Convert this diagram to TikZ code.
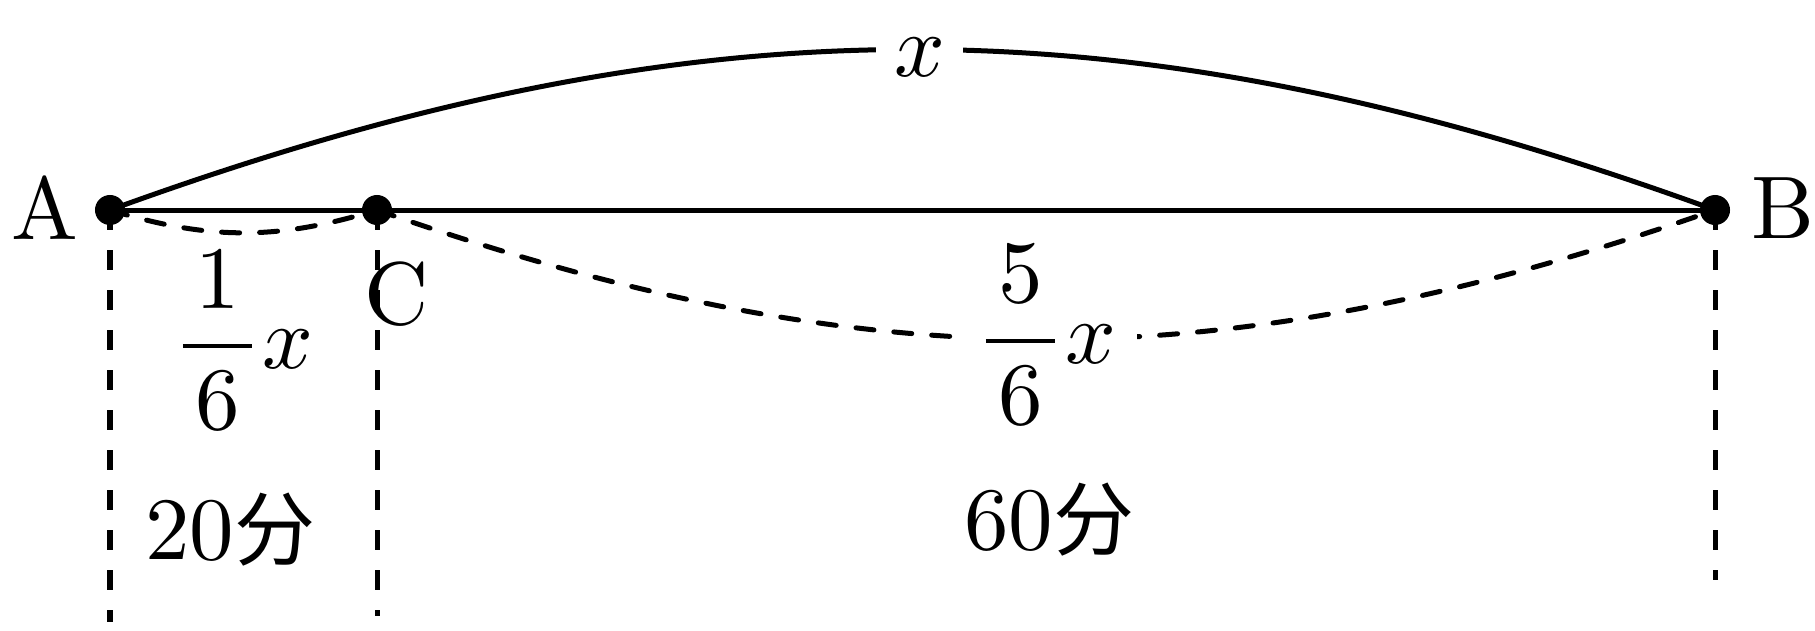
\documentclass[tikz,border=0pt]{standalone}
\usepackage{amsmath}
\usepackage{graphicx}
\usepackage{fontspec}
\newfontfamily\cjk{Noto Sans CJK SC}
\newcommand{\Lbl}[1]{\scalebox{2.53}{#1}}
\begin{document}
\begin{tikzpicture}[x=0.01cm, y=-0.01cm,
  lw/.style={line width=0.05cm},
  dotnode/.style={circle, fill=black, inner sep=0pt, minimum size=0.3cm},
  lbl/.style={font=\fontsize{10pt}{12pt}\selectfont, inner sep=0pt},
  vdash/.style={lw, dash pattern=on 0.2cm off 0.2cm},
  adash/.style={lw, line cap=round, dash pattern=on 0.18cm off 0.2cm},
]
\useasboundingbox[fill=white] (0,0) rectangle (1815,630);
% points
\node[dotnode] (A) at (110,210) {};
\node[dotnode] (C) at (377,210) {};
\node[dotnode] (B) at (1715,210) {};
\coordinate (Aend) at (110,622);
\coordinate (Cend) at (377,616);
\coordinate (Bend) at (1715,580);
% main line and arcs
\draw[lw] (A.center) -- (B.center);
\draw[lw] (A.center) to[bend left=20]
  node[pos=0.5, lbl, fill=white, inner xsep=0.18cm, inner ysep=0.05cm, yshift=-0.08cm, xshift=0.07cm] (LX) {\Lbl{$x$}}
  (B.center);
\draw[adash] (A.center) to[bend right=17] (C.center);
\draw[adash] (C.center) to[bend right=19.3]
  node[pos=0.5, lbl, fill=white, inner xsep=0.2cm, inner ysep=0.02cm, yshift=0.045cm] (L56)
  {\Lbl{$\dfrac{\mkern2.5mu 5\mkern2.5mu}{\mkern2.5mu 6\mkern2.5mu}x$}}
  (B.center);
% vertical dashed lines
\draw[vdash] (A.center) -- (Aend);
\draw[vdash] (C.center) -- (Cend);
\draw[vdash] (B.center) -- (Bend);
% labels
\node[lbl] (LA) at (45,208) {\Lbl{A}};
\node[lbl] (LB) at (1783,208) {\Lbl{B}};
\node[lbl] (LC) at (397,294.5) {\Lbl{C}};
\node[lbl] (L16) at (243,340) {\Lbl{$\dfrac{\mkern2.5mu 1\mkern2.5mu}{\mkern2.5mu 6\mkern2.5mu}x$}};
\node[lbl, anchor=base] (T20) at (230,559) {\Lbl{20{\cjk\fontsize{9.1pt}{11pt}\selectfont 分}}};
\node[lbl, anchor=base] (T60) at (1049,549) {\Lbl{60{\cjk\fontsize{9.1pt}{11pt}\selectfont 分}}};
\end{tikzpicture}
\end{document}
